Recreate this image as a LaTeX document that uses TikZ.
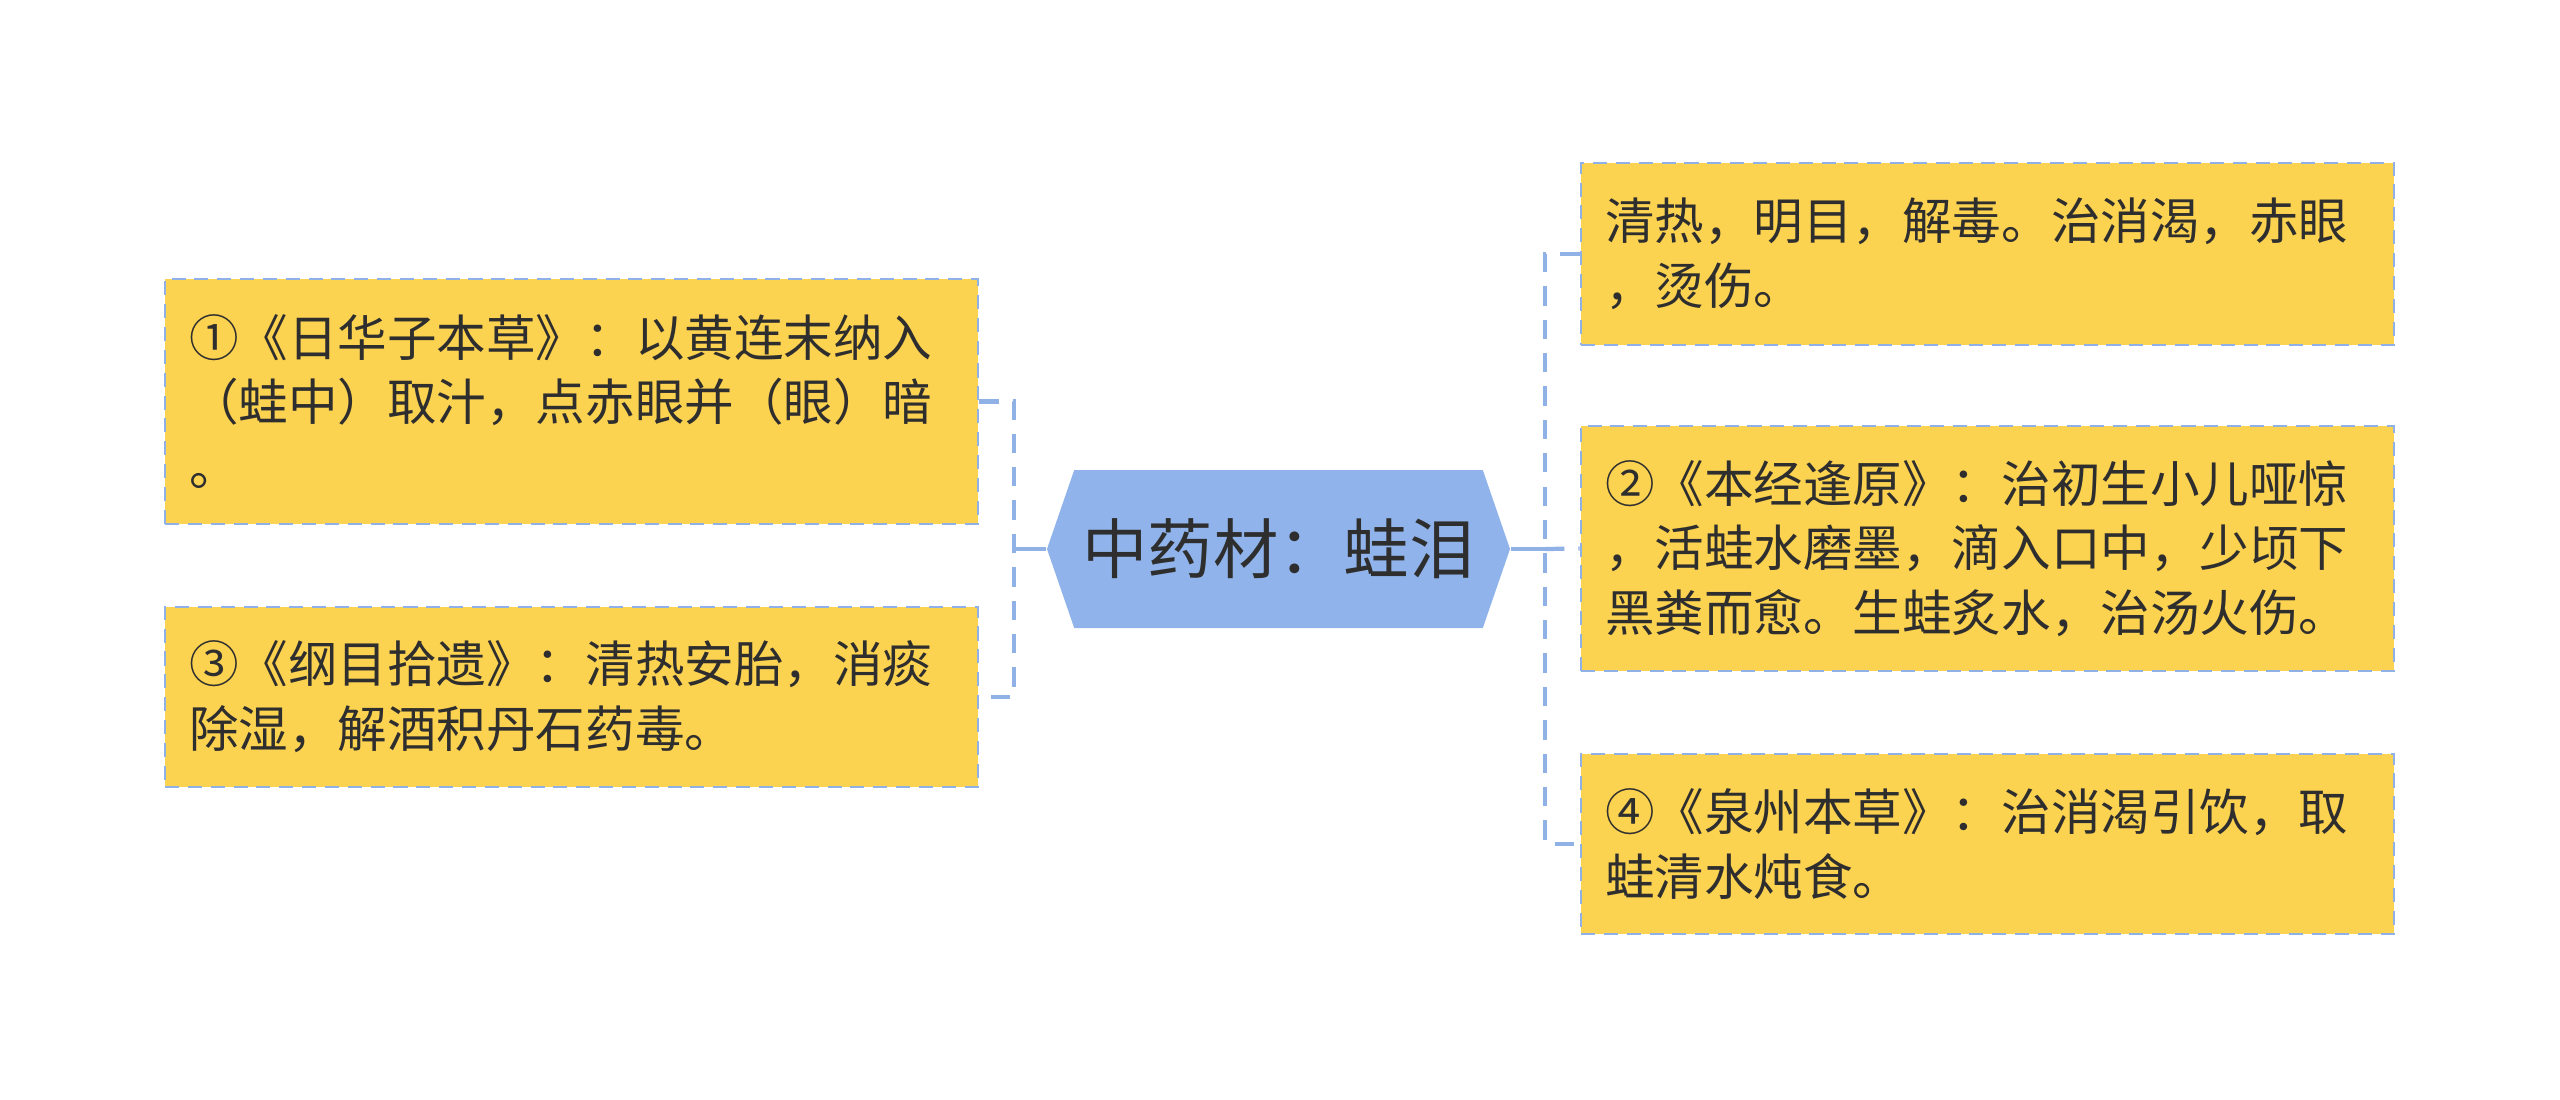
\documentclass[tikz,border=0pt]{standalone}
\usepackage{fontspec}
\setmainfont{Noto Sans CJK SC}
\usepackage{tikz}
\usetikzlibrary{shapes.symbols,positioning,calc}
\definecolor{boxfill}{HTML}{FCD251}
\definecolor{boxline}{HTML}{8FB1E6}
\definecolor{rootfill}{HTML}{8FB3EA}
\definecolor{txt}{HTML}{2E2E2E}

\begin{document}
\begin{tikzpicture}[
        leaf/.style={draw=boxline,fill=boxfill,line width=0.8pt,dash pattern=on 4pt off 2.5pt,
          text=txt,text width=7.65cm,inner xsep=0.24cm,inner ysep=0pt,align=left,
          font=\fontsize{14.1pt}{18.4pt}\selectfont},
        root/.style={signal,signal to=west and east,signal pointer angle=142,fill=rootfill,
          text=txt,minimum width=4.63cm,minimum height=1.58cm,inner sep=0pt,
          font=\fontsize{18.6pt}{22pt}\selectfont},
        stem/.style={draw=boxline,line width=1.2pt},
        branch/.style={draw=boxline,line width=1.2pt,dash pattern=on 5.5pt off 4pt}
      ]
      \useasboundingbox (0,0) rectangle (25.6,-10.99);

      \node[root] (herb) at (12.785,-5.49) {中药材：蛙泪};

      % left side
      \node[leaf,minimum height=2.45cm] (rihua) at (5.715,-4.015)
      {①《日华子本草》：以黄连末纳入\\（蛙中）取汁，点赤眼并（眼）暗\\。};
      \node[leaf,minimum height=1.80cm] (gangmu) at (5.715,-6.97)
      {③《纲目拾遗》：清热安胎，消痰\\除湿，解酒积丹石药毒。};

      % right side
      \node[leaf,minimum height=1.82cm] (gongxiao) at (19.875,-2.54)
      {清热，明目，解毒。治消渴，赤眼\\，烫伤。};
      \node[leaf,minimum height=2.45cm] (benjing) at (19.875,-5.485)
      {②《本经逢原》：治初生小儿哑惊\\，活蛙水磨墨，滴入口中，少顷下\\黑粪而愈。生蛙炙水，治汤火伤。};
      \node[leaf,minimum height=1.80cm] (quanzhou) at (19.875,-8.44)
      {④《泉州本草》：治消渴引饮，取\\蛙清水炖食。};

      \coordinate (lj) at (10.14,-5.49);
      \coordinate (rj) at (15.45,-5.49);

      \draw[stem] (herb.west) -- (lj);
      \draw[branch] (rihua.east) -- (rihua.east -| lj) -- (gangmu.east -| lj) -- (gangmu.east);

      \draw[stem] (herb.east) -- (rj);
      \draw[branch] (gongxiao.west) -- (gongxiao.west -| rj) -- (quanzhou.west -| rj) -- (quanzhou.west);
      \draw[branch] (rj) -- (benjing.west);
    \end{tikzpicture}
\end{document}
